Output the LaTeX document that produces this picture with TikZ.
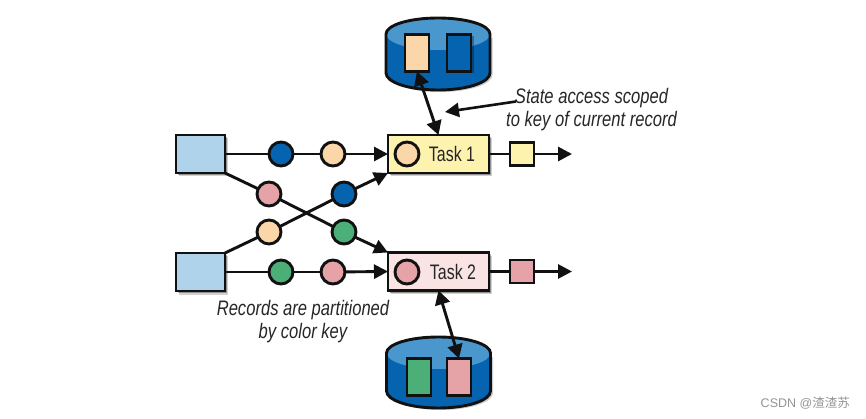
\documentclass[tikz,border=0pt]{standalone}
\usepackage{fontspec}
\setmainfont{Liberation Sans}
\newfontfamily\narrowf[FakeStretch=0.79]{Liberation Sans}
\newfontfamily\taskf[FakeStretch=0.76]{Liberation Sans}
\newfontfamily\cjk{Noto Sans CJK SC}
\usetikzlibrary{arrows.meta,shadows}
\definecolor{lblue}{HTML}{AFD3EA}
\definecolor{dblue}{HTML}{0563AF}
\definecolor{mblue}{HTML}{4A97CE}
\definecolor{peach}{HTML}{FBD6A8}
\definecolor{rosec}{HTML}{E5A3A8}
\definecolor{greenc}{HTML}{4CAF78}
\definecolor{yell}{HTML}{FDF3AE}
\definecolor{lrose}{HTML}{F9E3E3}
\definecolor{ink}{HTML}{111111}
\tikzset{
  softshadow/.style={drop shadow={shadow xshift=2.5pt,shadow yshift=-3.5pt,opacity=.18,fill=black},
                     drop shadow={shadow xshift=1.5pt,shadow yshift=-2pt,opacity=.3,fill=black}},
  boxb/.style={draw=ink,line width=2.9pt,inner sep=0pt,outer sep=0pt,rectangle},
  srcbox/.style={boxb,softshadow,fill=lblue,minimum width=49pt,minimum height=38pt},
  taskbox/.style={boxb,softshadow,minimum width=101pt,minimum height=38pt},
  outbox/.style={boxb,minimum width=24pt,minimum height=23pt},
  storebox/.style={boxb,minimum width=24pt,minimum height=37pt},
  rec/.style={draw=ink,line width=2.9pt,circle,inner sep=0pt,outer sep=0pt,minimum size=24pt},
  flow/.style={draw=ink,line width=2.9pt},
  tip/.style={-{Triangle[length=14pt,width=14pt]}},
  both/.style={{Triangle[length=14pt,width=15pt]}-{Triangle[length=14pt,width=15pt]}},
  note/.style={font=\narrowf\itshape\fontsize{21}{23}\selectfont,text=black!85,align=center,inner sep=0pt},
  tasklabel/.style={font=\taskf\fontsize{21}{24}\selectfont,text=black!85,inner sep=0pt},
}
\newcommand{\drum}[3]{% centre x, top y, bottom y
  \fill[black,opacity=.2] (#1+54.5,#2+20) -- (#1+54.5,#3-15) arc[x radius=52,y radius=17,start angle=0,end angle=180] -- cycle;
  \path[fill=dblue] (#1-52,#2+16) -- (#1-52,#3-17) arc[x radius=52,y radius=17,start angle=180,end angle=0] -- (#1+52,#2+16) arc[x radius=52,y radius=16,start angle=0,end angle=-180] -- cycle;
  \fill[mblue] (#1,#2+16) ellipse[x radius=52,y radius=16];
  \draw[ink,line width=2.9pt] (#1-52,#2+16) -- (#1-52,#3-17) arc[x radius=52,y radius=17,start angle=180,end angle=0] -- (#1+52,#2+16) arc[x radius=52,y radius=16,start angle=0,end angle=-180] -- cycle;
}
\begin{document}
\begin{tikzpicture}[x=1pt,y=-1pt]
\useasboundingbox (0,0) rectangle (866,419);
\fill[white] (0,0) rectangle (866,419);
% stores
\drum{438}{18}{90}
\drum{438.5}{337}{408}
\node[storebox,fill=peach] (s1a) at (417,53) {};
\node[storebox,fill=dblue,drop shadow={shadow xshift=2.5pt,shadow yshift=-2pt,opacity=.3,fill=black}] (s1b) at (459,53) {};
\node[storebox,fill=greenc] (s2a) at (419,377) {};
\node[storebox,fill=rosec] (s2b) at (459,377) {};
% sources and tasks
\node[srcbox] (src1) at (200.5,154) {};
\node[srcbox] (src2) at (200.5,272) {};
\node[taskbox,fill=yell] (task1) at (438.5,154) {};
\node[taskbox,fill=lrose] (task2) at (438.5,271.5) {};
\node[rec,fill=peach] (t1c) at (407,154) {};
\node[rec,fill=rosec] (t2c) at (407,272) {};
\node[tasklabel] (t1l) at (452,154) {Task 1};
\node[tasklabel] (t2l) at (453,271.5) {Task 2};
% records
\node[rec,fill=dblue] (r1) at (281,154) {};
\node[rec,fill=peach] (r2) at (333,154) {};
\node[rec,fill=rosec] (r3) at (269,194) {};
\node[rec,fill=greenc] (r4) at (344,232) {};
\node[rec,fill=peach] (r5) at (269,232) {};
\node[rec,fill=dblue] (r6) at (344,194) {};
\node[rec,fill=greenc] (r7) at (281,272) {};
\node[rec,fill=rosec] (r8) at (333,272) {};
% outputs
\node[outbox,fill=yell] (o1) at (522,154) {};
\node[outbox,fill=rosec] (o2) at (522,271.5) {};
\coordinate (e1) at (572,154);
\coordinate (e2) at (572,271.5);
% connectors
\draw[flow] (src1.east) -- (r1);
\draw[flow] (r1) -- (r2);
\draw[flow,tip] (r2) -- (task1.west);
\draw[flow] (src1.south east) -- (r3);
\draw[flow] (r3) -- (r4);
\draw[flow,tip] (r4) -- (task2.north west);
\draw[flow] (src2.north east) -- (r5);
\draw[flow] (r5) -- (r6);
\draw[flow,tip] (r6) -- (task1.south west);
\draw[flow] (src2.east) -- (r7);
\draw[flow] (r7) -- (r8);
\draw[flow,tip] (r8) -- (task2.west);
\draw[flow] (task1.east) -- (o1.west);
\draw[flow,tip] (o1.east) -- (e1);
\draw[flow] (task2.east) -- (o2.west);
\draw[flow,tip] (o2.east) -- (e2);
\draw[flow,both] (s1a.south) -- (task1.north);
\draw[flow,both] (task2.south) -- (s2b.north);
% notes
\node[note] (n1) at (591.5,110) {State access scoped\\to key of current record};
\coordinate (n1s) at (516,101.5);
\coordinate (n1e) at (445,112);
\draw[flow,line width=2.6pt,tip] (n1s) -- (n1e);
\node[note] (n2) at (303,322) {Records are partitioned\\by color key};
\node[inner sep=0pt,anchor=east,text=black!42,font=\fontsize{12.5}{14}\selectfont] (wm) at (850,403) {CSDN @{\cjk 渣渣苏}};
\end{tikzpicture}
\end{document}
